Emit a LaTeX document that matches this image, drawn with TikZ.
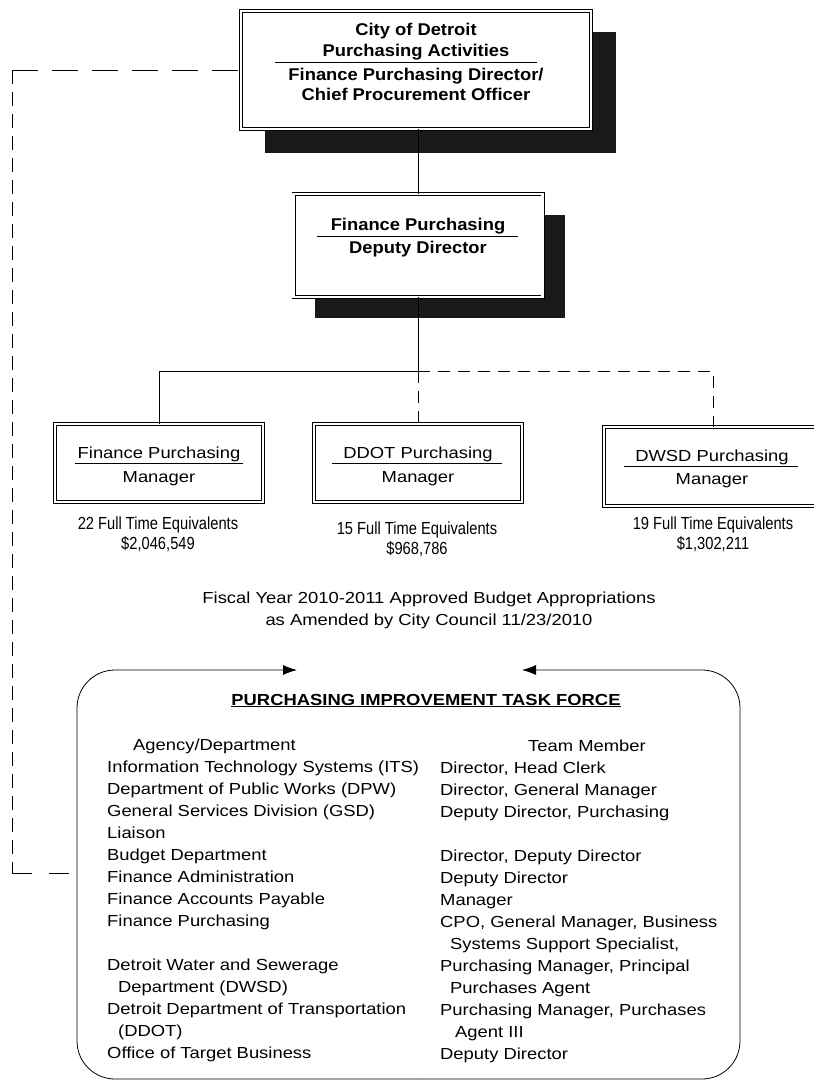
\documentclass[tikz,border=0pt]{standalone}
\usepackage{fontspec}
\setmainfont[FakeStretch=1.15]{Liberation Sans}
\newfontfamily\narrowfont[FakeStretch=0.84]{Liberation Sans}
\newfontfamily\titlefont[FakeStretch=1.08]{Liberation Sans}
\usetikzlibrary{arrows.meta}
\begin{document}
\begin{tikzpicture}[x=1pt,y=-1pt,
  line/.style={line width=0.8pt},
  dbox/.style={draw, double, double distance=2.6pt, line width=0.7pt, inner sep=0pt, fill=white},
  shade/.style={fill=black!90},
  ttl/.style={font=\fontsize{16}{19}\selectfont\bfseries, anchor=base, inner sep=0pt},
  btl/.style={font=\titlefont\fontsize{17}{20}\selectfont\bfseries, anchor=base, inner sep=0pt},
  mtxt/.style={font=\fontsize{16}{19}\selectfont, anchor=base, inner sep=0pt},
  ftxt/.style={font=\narrowfont\fontsize{17.5}{20}\selectfont, anchor=base, inner sep=0pt},
  col/.style={font=\fontsize{16}{19}\selectfont, anchor=base west, inner sep=0pt},
  dsh/.style={line width=0.8pt, dash pattern=on 12pt off 8pt},
  arr/.style={line width=0.8pt, rounded corners=38pt, -{Latex[length=14pt,width=10pt]}}
]
\useasboundingbox (0,0) rectangle (814,1080);

% shadows
\fill[shade] (265,32) rectangle (616,153);
\fill[shade] (315,215) rectangle (565,318);

% boxes
\node[dbox, minimum width=350pt, minimum height=118pt] (top) at (416,70) {};
\node[dbox, minimum width=249pt, minimum height=103pt] (dep) at (418,245.5) {};
\node[dbox, minimum width=208pt, minimum height=78pt] (fpm) at (159,463) {};
\node[dbox, minimum width=208pt, minimum height=78pt] (ddot) at (418,463) {};
\node[dbox, minimum width=218pt, minimum height=79pt] (dwsd) at (713,466.5) {};

% box texts
\node[btl] (t1) at (416,35) {City of Detroit};
\node[btl] (t2) at (416,56) {Purchasing Activities};
\draw[line] (275,62) -- (537,62);
\node[btl] (t3) at (416,80) {Finance Purchasing Director/};
\node[btl] (t4) at (416,100) {Chief Procurement Officer};

\node[btl] (d1) at (418,230) {Finance Purchasing};
\draw[line] (317,236) -- (518,236);
\node[btl] (d2) at (418,253) {Deputy Director};

\node[mtxt] (m1a) at (159,458) {Finance Purchasing};
\draw[line] (75,463) -- (243,463);
\node[mtxt] (m1b) at (159,482) {Manager};
\node[mtxt] (m2a) at (418,458) {DDOT Purchasing};
\draw[line] (332,463) -- (502,463);
\node[mtxt] (m2b) at (418,482) {Manager};
\node[mtxt] (m3a) at (712,461) {DWSD Purchasing};
\draw[line] (624,466) -- (798,466);
\node[mtxt] (m3b) at (712,484) {Manager};

% connectors
\coordinate (bar) at (418,371);
\draw[line] (dep.north) -- (dep.north |- top.south);
\draw[line] (dep.south) -- (bar) -| (fpm.north);
\draw[dsh] (bar) -- (ddot.north);
\draw[dsh] (bar) -| (dwsd.north);

% FTE texts
\node[ftxt] (f1a) at (158,529) {22 Full Time Equivalents};
\node[ftxt] (f1b) at (158,549) {\$2,046,549};
\node[ftxt] (f2a) at (417,534) {15 Full Time Equivalents};
\node[ftxt] (f2b) at (417,554) {\$968,786};
\node[ftxt] (f3a) at (713,529) {19 Full Time Equivalents};
\node[ftxt] (f3b) at (713,549) {\$1,302,211};

\node[mtxt] (fy1) at (429,603) {Fiscal Year 2010-2011 Approved Budget Appropriations};
\node[mtxt] (fy2) at (429,625) {as Amended by City Council 11/23/2010};

% task force frame
\coordinate (tfA) at (297,670);
\coordinate (tfB) at (522,670);
\coordinate (tfin) at (77,873);
\draw[arr] (420,1079) -- (77,1079) -- (77,670) -- (tfA);
\draw[arr] (420,1079) -- (740,1079) -- (740,670) -- (tfB);

\node[ttl] (tft) at (426,705) {\underline{PURCHASING IMPROVEMENT TASK FORCE}};

\foreach \t [count=\i from 0] in {
  {\hspace*{26pt}Agency/Department},
  {Information Technology Systems (ITS)},
  {Department of Public Works (DPW)},
  {General Services Division (GSD)},
  {Liaison},
  {Budget Department},
  {Finance Administration},
  {Finance Accounts Payable},
  {Finance Purchasing},
  {},
  {Detroit Water and Sewerage},
  {\hspace*{11pt}Department (DWSD)},
  {Detroit Department of Transportation},
  {\hspace*{11pt}(DDOT)},
  {Office of Target Business}}
  \node[col] (L\i) at (107,{750+22*\i}) {\t};

\foreach \t [count=\i from 0] in {
  {\hspace*{88pt}Team Member},
  {Director, Head Clerk},
  {Director, General Manager},
  {Deputy Director, Purchasing},
  {},
  {Director, Deputy Director},
  {Deputy Director},
  {Manager},
  {CPO, General Manager, Business},
  {\hspace*{10pt}Systems Support Specialist,},
  {Purchasing Manager, Principal},
  {\hspace*{10pt}Purchases Agent},
  {Purchasing Manager, Purchases},
  {\hspace*{15pt}Agent III},
  {Deputy Director}}
  \node[col] (R\i) at (440,{751+22*\i}) {\t};

% dashed link on the left
\coordinate (c1) at (12,70);
\coordinate (c2) at (12,873);
\draw[line, dash pattern=on 26pt off 14pt] (c1) -- (top.west);
\draw[line, dash pattern=on 14pt off 8pt] (c1) -- (c2);
\draw[line, dash pattern=on 20pt off 17pt] (c2) -- (tfin);
\end{tikzpicture}
\end{document}
